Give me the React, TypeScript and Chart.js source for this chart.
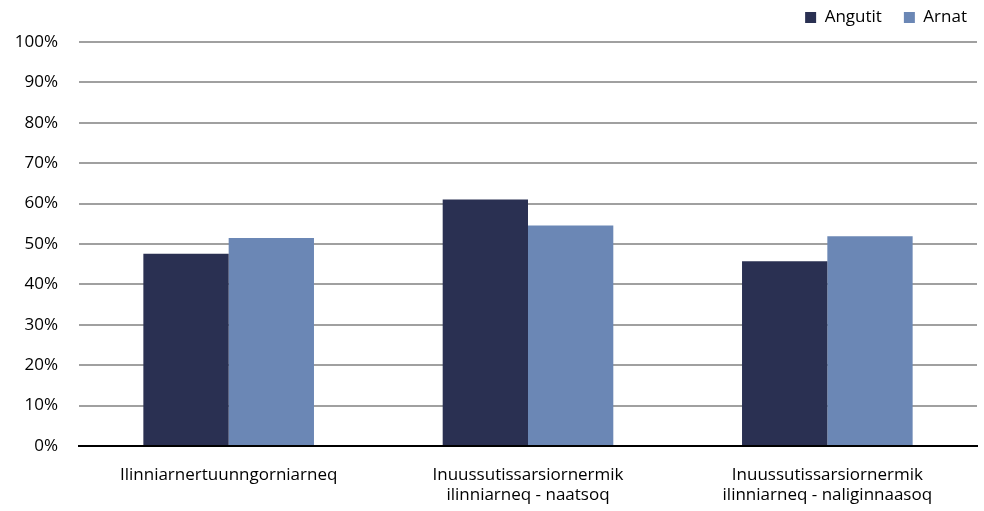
import React, { useEffect, useRef } from "react";
import { Chart, registerables } from "chart.js";

Chart.register(...registerables);

const categories: (string | string[])[] = [
  "Ilinniarnertuunngorniarneq",
  ["Inuussutissarsiornermik", "ilinniarneq - naatsoq"],
  ["Inuussutissarsiornermik", "ilinniarneq - naliginnaasoq"],
];
const angutit = [47.6, 61.0, 45.7];
const arnat = [51.5, 54.6, 51.9];
const seriesNames = ["Angutit", "Arnat"];
const FONT = "'Open Sans', sans-serif";

const legendAdjust = {
  id: "legendAdjust",
  beforeInit(chart: any) {
    const lg = chart.legend;
    if (!lg) return;
    const orig = lg.fit;
    lg.fit = function () {
      orig.call(lg);
      lg.height = 42;
    };
  },
  afterLayout(chart: any) {
    const lg = chart.legend;
    if (!lg) return;
    lg.top -= 13;
    lg.bottom -= 13;
    lg.left += 12;
    lg.right += 12;
  },
};

export default function App() {
  const ref = useRef<HTMLCanvasElement>(null);
  useEffect(() => {
    if (!ref.current) return;
    const chart = new Chart(ref.current, {
      type: "bar",
      data: {
        labels: categories,
        datasets: [
          {
            label: seriesNames[0],
            data: angutit,
            backgroundColor: "#2a3052",
            borderWidth: 0,
            categoryPercentage: 0.57,
            barPercentage: 1,
          },
          {
            label: seriesNames[1],
            data: arnat,
            backgroundColor: "#6b87b5",
            borderWidth: 0,
            categoryPercentage: 0.57,
            barPercentage: 1,
          },
        ],
      },
      plugins: [legendAdjust],
      options: {
        animation: false,
        responsive: false,
        layout: { padding: { left: 0, right: 7, top: 0, bottom: 0 } },
        plugins: {
          legend: {
            position: "top",
            align: "end",
            labels: {
              boxWidth: 11,
              boxHeight: 11,
              padding: 22,
              color: "#000",
              font: { family: FONT, size: 17, lineHeight: 1.2 },
            },
          },
          tooltip: { enabled: false },
        },
        scales: {
          x: {
            afterFit: (s: any) => {
              s.height = 65;
            },
            grid: { display: false, drawTicks: false },
            border: { display: true, color: "#000", width: 2 },
            ticks: {
              color: "#000",
              font: { family: FONT, size: 17, lineHeight: 1.2 },
              padding: 19,
              maxRotation: 0,
              autoSkip: false,
            },
          },
          y: {
            min: 0,
            max: 100,
            afterFit: (s: any) => {
              s.width = 79;
            },
            grid: { color: "#a0a0a0", lineWidth: 2, drawTicks: false },
            border: { display: false },
            ticks: {
              stepSize: 10,
              color: "#000",
              padding: 21,
              font: { family: FONT, size: 17 },
              callback: (v: any) => v + "%",
            },
          },
        },
      },
    });
    return () => chart.destroy();
  }, []);
  return (
    <div style={{ position: "absolute", left: 0, top: 0, width: 984, height: 511, background: "#fff" }}>
      <canvas ref={ref} width={984} height={511} />
    </div>
  );
}
